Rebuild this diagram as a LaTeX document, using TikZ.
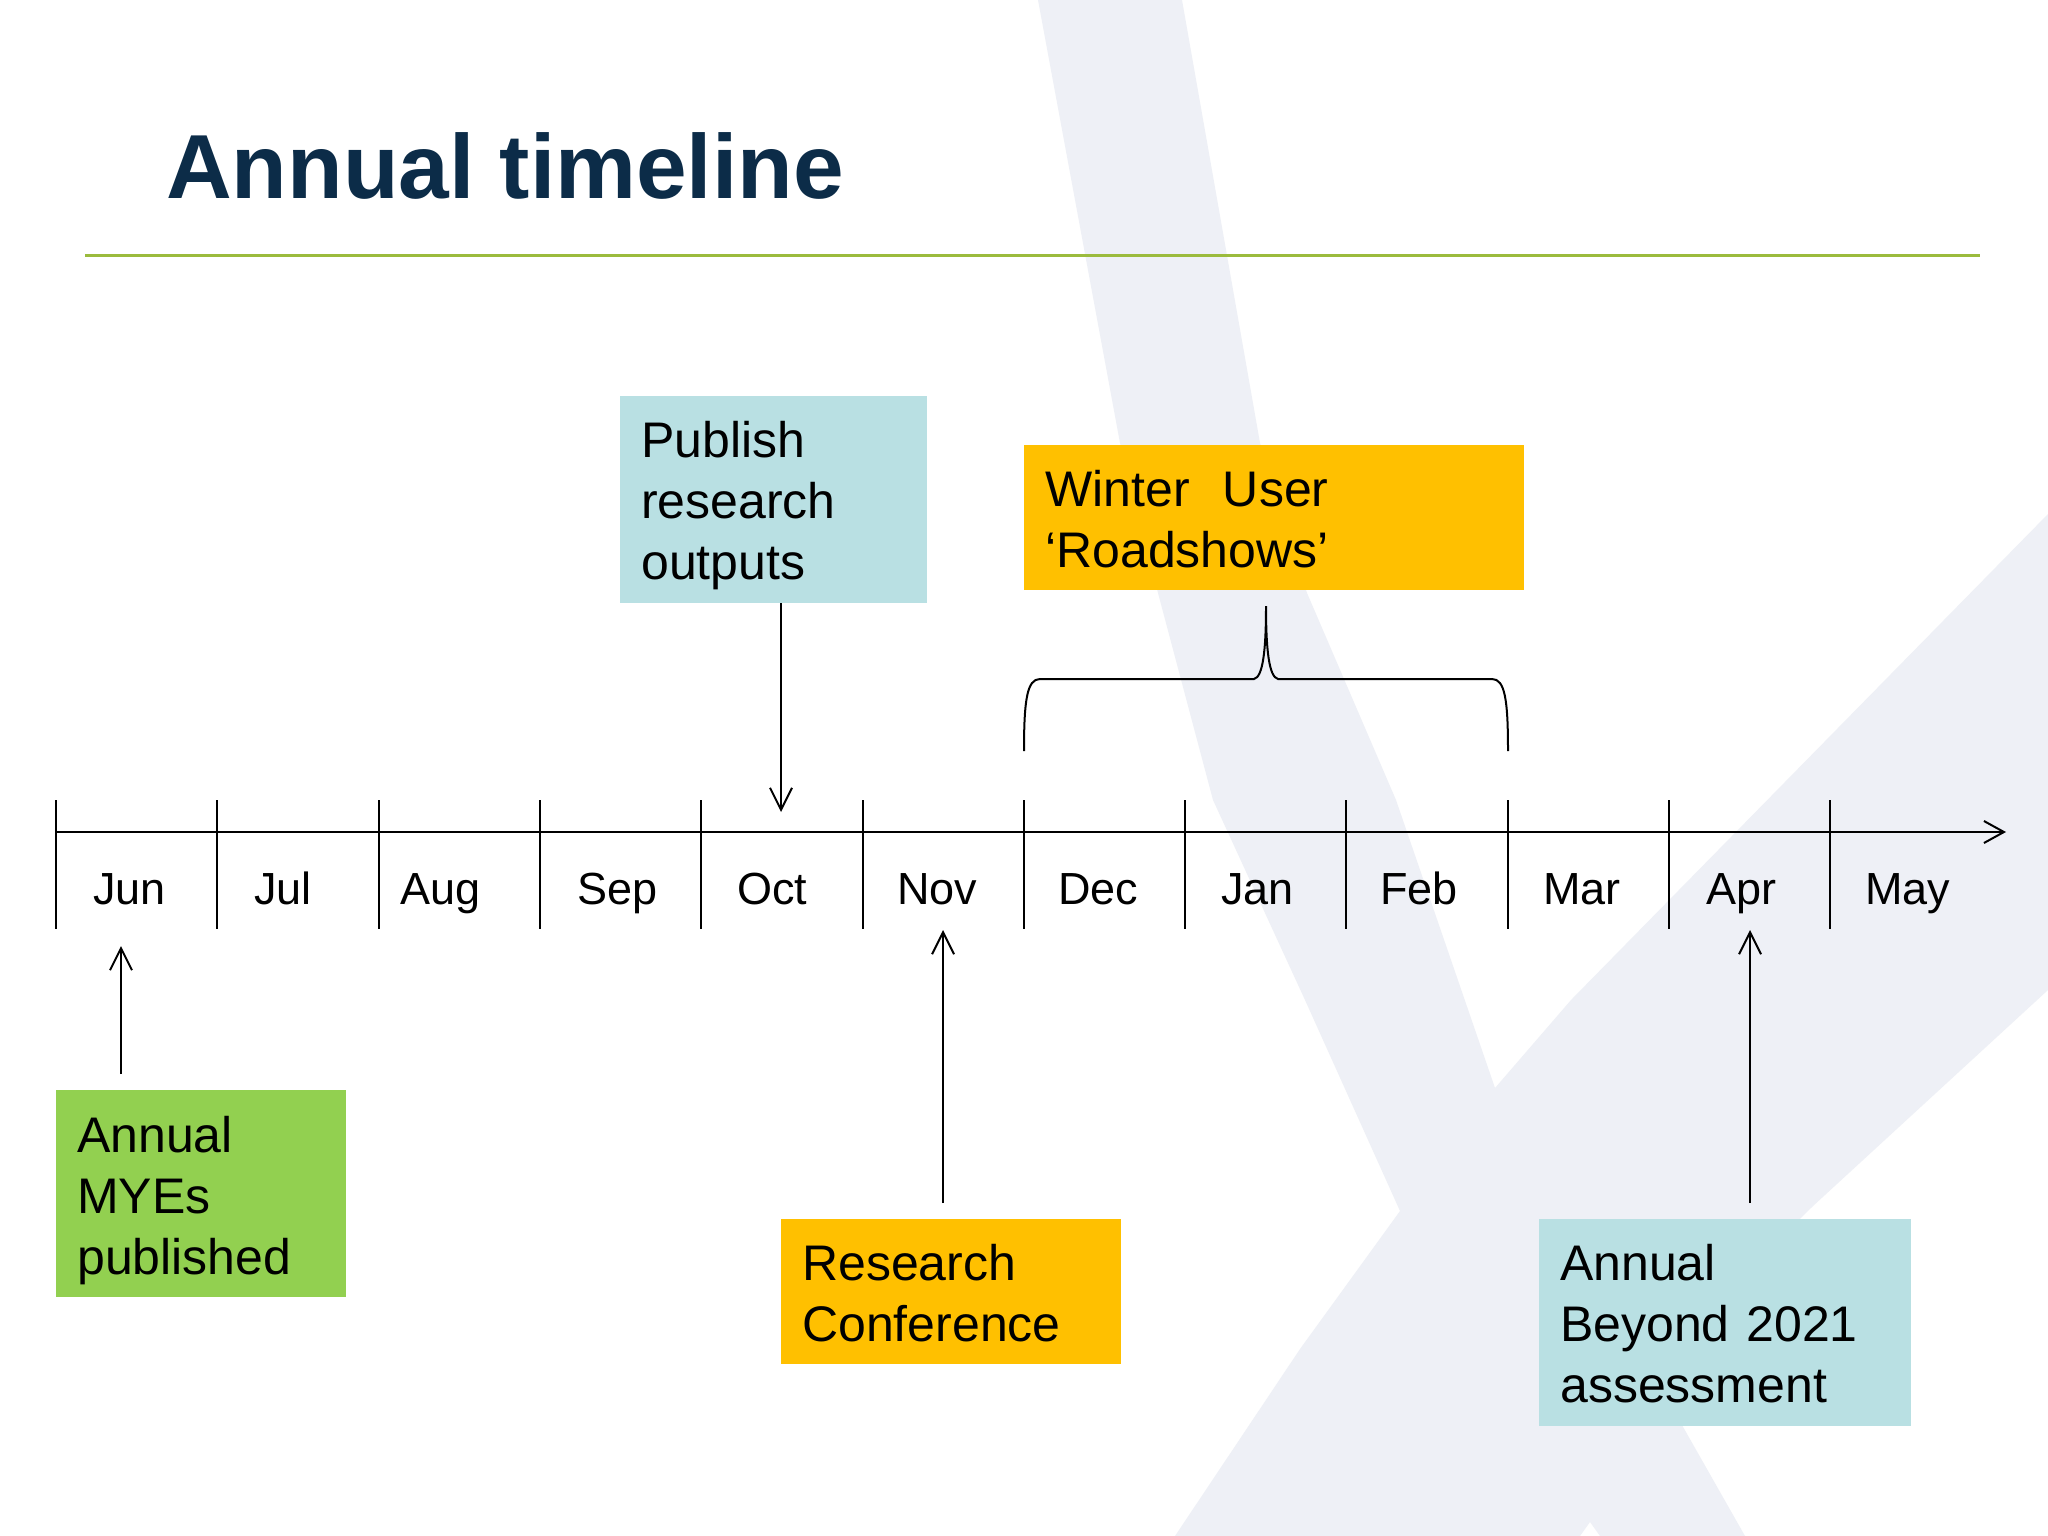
\documentclass[tikz,border=0pt]{standalone}
\usepackage{fontspec}
\setmainfont{Liberation Sans}
\usetikzlibrary{arrows.meta}

\definecolor{titlenavy}{RGB}{12,44,72}
\definecolor{rulegreen}{RGB}{155,187,61}
\definecolor{boxblue}{RGB}{185,224,227}
\definecolor{boxorange}{RGB}{255,192,0}
\definecolor{boxgreen}{RGB}{146,208,80}
\definecolor{xgray}{RGB}{238,240,246}

\tikzset{
	evbox/.style={anchor=north west, inner xsep=21pt, inner ysep=0pt, text height=61pt, align=left, font=\fontsize{50}{61}\selectfont},
	month/.style={anchor=base west, inner sep=0pt, font=\fontsize{45}{54}\selectfont},
	tl/.style={line width=2pt},
	arr/.style={line width=2pt, -{Straight Barb[length=22pt,width=22pt]}},
}

\begin{document}
\begin{tikzpicture}[x=1pt,y=-1pt]
	\useasboundingbox (0,0) rectangle (2048,1536);
	\fill[white] (0,0) rectangle (2048,1536);
	\fill[xgray] (1038,0) -- (1182,0) -- (1260,443) -- (1307,593) -- (1396,800) -- (1495,1088) -- (1571,1000) -- (2048,514) -- (2048,990) -- (1813,1206) -- (1649,1367) -- (1745,1536) -- (1600,1536) -- (1590,1522) -- (1580,1536) -- (1175,1536) -- (1300,1349) -- (1400,1211) -- (1305,1000) -- (1213,800) -- (1158,593) -- (1120,443) -- cycle;

	\node[anchor=base west, inner sep=0pt, text=titlenavy, font=\fontsize{91}{100}\selectfont\bfseries] (title) at (166,198) {Annual timeline};
	\draw[line width=3pt, rulegreen] (85,255) -- (1980,255);

	\coordinate (axL) at (56,832);
	\coordinate (axR) at (2006,832);
	\draw[tl, -{Straight Barb[length=20pt,width=22pt]}] (axL) -- (axR);
	\foreach \i in {0,...,11}
		\draw[tl] (56+161.3*\i,800) -- (56+161.3*\i,929);

	\node[month] (jun) at (93,904)   {Jun};
	\node[month] (jul) at (254,904)  {Jul};
	\node[month] (aug) at (400,904)  {Aug};
	\node[month] (sep) at (577,904)  {Sep};
	\node[month] (oct) at (737,904)  {Oct};
	\node[month] (nov) at (897,904)  {Nov};
	\node[month] (dec) at (1058,904) {Dec};
	\node[month] (jan) at (1221,904) {Jan};
	\node[month] (feb) at (1380,904) {Feb};
	\node[month] (mar) at (1543,904) {Mar};
	\node[month] (apr) at (1706,904) {Apr};
	\node[month] (may) at (1865,904) {May};

	\node[evbox, fill=boxblue, text width=265pt, text depth=146pt] (pub) at (620,396) {Publish\\research\\outputs};
	\node[evbox, fill=boxorange, text width=458pt, text depth=84pt] (winter) at (1024,445) {Winter~~User\\‘Roadshows’};
	\node[evbox, fill=boxgreen, text width=248pt, text height=62pt, text depth=145pt] (myes) at (56,1090) {Annual\\MYEs\\published};
	\node[evbox, fill=boxorange, text width=298pt, text depth=84pt] (conf) at (781,1219) {Research\\Conference};
	\node[evbox, fill=boxblue, text width=330pt, text depth=146pt] (beyond) at (1539,1219) {Annual\\Beyond 2021\\assessment};

	\coordinate (octTip) at (781,812);
	\coordinate (junTip) at (121,946);
	\coordinate (junTail) at (121,1074);
	\coordinate (novTip) at (943,930);
	\coordinate (novTail) at (943,1203);
	\coordinate (aprTip) at (1750,930);
	\coordinate (aprTail) at (1750,1203);
	\draw[arr] (pub.south -| octTip) -- (octTip);
	\draw[arr] (junTail) -- (junTip);
	\draw[arr] (novTail) -- (novTip);
	\draw[arr] (aprTail) -- (aprTip);

	\coordinate (brL) at (1024,751);
	\coordinate (brR) at (1508,751);
	\coordinate (brTip) at (1266,606);
	\draw[tl] (brL) .. controls (1024,700) and (1027,679) .. (1040,679) -- (1254,679) .. controls (1263,677) and (1266,650) .. (brTip) .. controls (1266,650) and (1269,677) .. (1278,679) -- (1492,679) .. controls (1505,679) and (1508,700) .. (brR);
\end{tikzpicture}
\end{document}
